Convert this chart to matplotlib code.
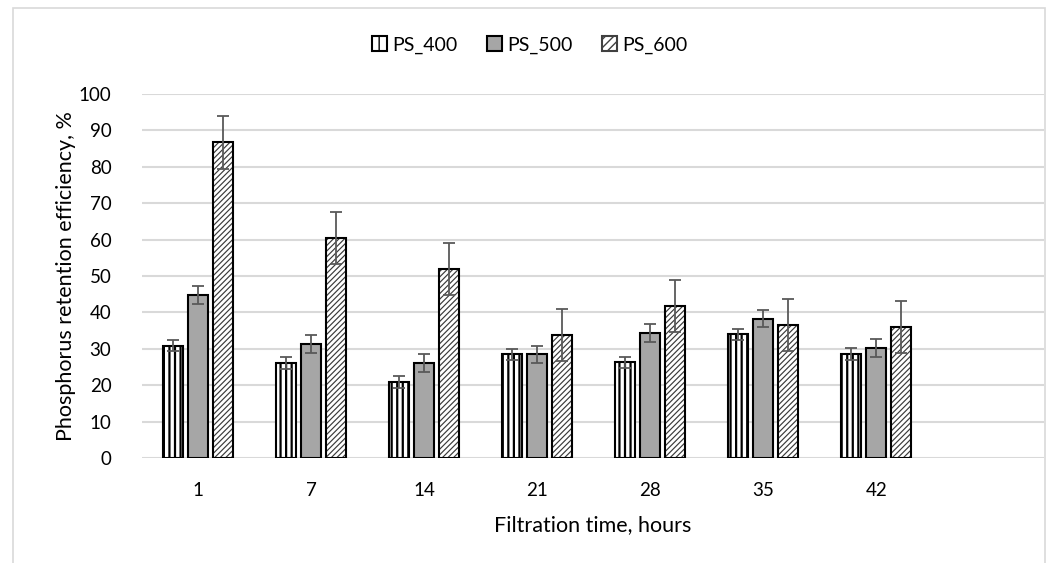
import matplotlib
matplotlib.use("Agg")
import matplotlib.pyplot as plt
from matplotlib.patches import Rectangle, Patch
import numpy as np

plt.rcParams['font.family'] = ['Lato', 'DejaVu Sans']

categories = ["1", "7", "14", "21", "28", "35", "42"]
series_names = ["PS_400", "PS_500", "PS_600"]
ps400 = [30.8, 26.1, 20.8, 28.5, 26.3, 34.0, 28.6]
ps500 = [44.8, 31.4, 26.0, 28.5, 34.3, 38.3, 30.2]
ps600 = [86.7, 60.4, 51.9, 33.8, 41.7, 36.5, 36.0]
err400 = [1.5, 1.6, 1.6, 1.5, 1.5, 1.5, 1.6]
err500 = [2.4, 2.5, 2.5, 2.4, 2.4, 2.4, 2.4]
err600 = [7.2, 7.2, 7.2, 7.2, 7.2, 7.2, 7.2]
yticks = [0, 10, 20, 30, 40, 50, 60, 70, 80, 90, 100]

W, H = 1049, 563
fig = plt.figure(figsize=(W / 100, H / 100), dpi=100)
ax = fig.add_axes([142 / W, 1 - 458 / H, (1044 - 142) / W, (458 - 94) / H])

# outer chart frame
fig.patches.append(Rectangle((13 / W, -0.05), (1045 - 13) / W, (1 - 8 / H) + 0.05,
                             transform=fig.transFigure, fill=False,
                             edgecolor='#d9d9d9', linewidth=1.2, zorder=0))

x = np.arange(len(categories))
step = 0.221
width = 0.172
edge_lw = 1.5
err_kw = dict(ecolor='#595959', elinewidth=1.3, capsize=4.5, capthick=1.3)


def set_hlw(container, lw):
    for p in container:
        if hasattr(p, 'set_hatch_linewidth'):
            p.set_hatch_linewidth(lw)


# PS_400: white with vertical stripes
with plt.rc_context({'hatch.linewidth': 1.6}):
    b1 = ax.bar(x - step, ps400, width, color='white', edgecolor='black', hatch='|||',
                linewidth=0, zorder=3)
set_hlw(b1, 1.6)
ax.bar(x - step, ps400, width, color='none', edgecolor='black',
       linewidth=edge_lw, zorder=4, yerr=err400, error_kw=err_kw)
# PS_500: gray fill
ax.bar(x, ps500, width, color='#a6a6a6', edgecolor='black',
       linewidth=edge_lw, zorder=4, yerr=err500, error_kw=err_kw)
# PS_600: diagonal hatch
with plt.rc_context({'hatch.linewidth': 0.85}):
    b3 = ax.bar(x + step, ps600, width, color='white', edgecolor='#3a3a3a', hatch='//////',
                linewidth=0, zorder=3)
set_hlw(b3, 0.85)
ax.bar(x + step, ps600, width, color='none', edgecolor='black',
       linewidth=edge_lw, zorder=4, yerr=err600, error_kw=err_kw)

ax.set_ylim(0, 100)
ax.set_xlim(-0.497, 7.485)
ax.set_yticks(yticks)
ax.set_xticks(x)
ax.set_xticklabels(categories)
ax.tick_params(axis='both', length=0, labelsize=13.5, colors='#000000')
ax.tick_params(axis='y', pad=22)
ax.tick_params(axis='x', pad=17)
for s in ax.spines.values():
    s.set_visible(False)
ax.yaxis.grid(True, color='#d9d9d9', linewidth=1.5, zorder=0)
ax.set_axisbelow(True)

ax.set_ylabel("Phosphorus retention efficiency, %", fontsize=15.5)
ax.yaxis.set_label_coords((76 - 142) / 902, 0.5)
ax.set_xlabel("Filtration time, hours", fontsize=15.5)
ax.xaxis.set_label_coords(0.5, (458 - 515) / 364)

with plt.rc_context({'hatch.linewidth': 1.2}):
    handles = [
        Patch(facecolor='white', edgecolor='black', hatch='||', linewidth=1.5, label=series_names[0]),
        Patch(facecolor='#a6a6a6', edgecolor='black', linewidth=1.5, label=series_names[1]),
        Patch(facecolor='white', edgecolor='#404040', hatch='////', linewidth=1.5, label=series_names[2]),
    ]
fig.legend(handles=handles, loc='center', bbox_to_anchor=(530 / W, 1 - 45 / H),
           ncol=3, frameon=False, fontsize=14, handlelength=0.75, handleheight=0.75,
           handletextpad=0.3, columnspacing=1.5)

fig.savefig("out.png", dpi=100)
